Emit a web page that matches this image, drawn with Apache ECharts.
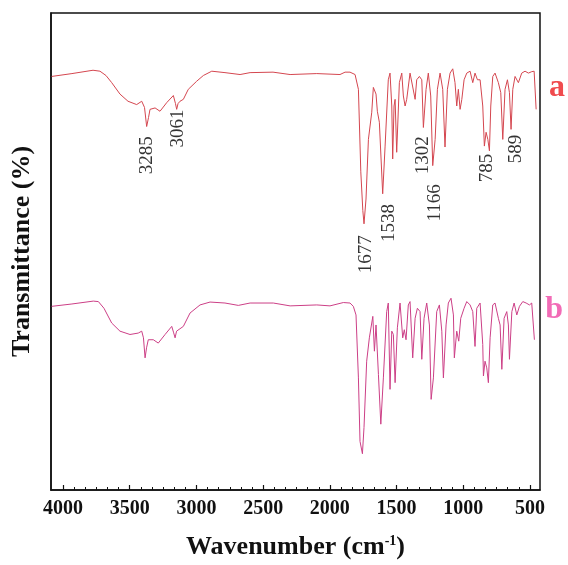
<!DOCTYPE html>
<html>
<head>
<meta charset="utf-8">
<script src="https://cdn.jsdelivr.net/npm/echarts@6/dist/echarts.min.js"></script>
<style>
html, body { margin: 0; padding: 0; background: #fff; }
#main { width: 568px; height: 565px; }
</style>
</head>
<body>
<div id="main"></div>
<script>
// 光谱 a（上方曲线）
const waveA = [4085, 3933, 3775, 3723, 3678, 3635, 3573, 3513, 3448, 3410, 3389, 3373, 3359, 3348, 3310, 3273, 3223, 3173, 3157, 3148,
  3138, 3123, 3098, 3061, 2998, 2948, 2885, 2786, 2673, 2598, 2426, 2298, 2098, 1924, 1886, 1849, 1811, 1786, 1768, 1753,
  1744, 1729, 1711, 1686, 1674, 1654, 1644, 1629, 1604, 1586, 1562, 1549, 1536, 1529, 1519, 1511, 1499, 1479, 1461, 1449,
  1436, 1424, 1399, 1386, 1361, 1349, 1329, 1311, 1299, 1279, 1262, 1244, 1229, 1211, 1194, 1174, 1154, 1137, 1119, 1099,
  1079, 1062, 1049, 1037, 1024, 1011, 994, 974, 949, 929, 912, 894, 874, 854, 842, 829, 816, 804, 794, 779,
  762, 737, 719, 704, 687, 669, 654, 642, 629, 612, 587, 562, 537, 512, 487, 469, 454]
const transA = [86.7, 87.3, 88.0, 87.8, 86.9, 85.4, 83.0, 81.5, 80.8, 81.5, 80.2, 76.2, 78.1, 79.8, 80.1, 79.4, 81.2, 82.7, 81.0, 79.8,
  81.0, 81.5, 81.9, 84.0, 85.7, 86.9, 87.8, 87.5, 87.1, 87.5, 87.6, 87.1, 87.3, 87.1, 87.6, 87.6, 87.1, 84.0, 66.7, 58.6,
  55.8, 61.0, 73.5, 79.2, 84.4, 83.0, 79.4, 77.1, 62.1, 72.1, 86.0, 87.4, 80.5, 69.4, 80.5, 81.9, 70.8, 85.4, 87.4, 82.6,
  80.5, 81.9, 87.4, 87.6, 81.9, 86.0, 86.7, 86.0, 76.0, 84.0, 87.4, 82.6, 68.0, 73.5, 84.0, 87.4, 84.0, 71.9, 84.0, 87.4,
  88.3, 85.4, 80.5, 84.0, 79.8, 81.9, 86.0, 87.4, 87.8, 85.4, 87.4, 86.0, 86.0, 80.5, 72.1, 75.0, 73.5, 71.1, 80.5, 86.7,
  87.4, 85.4, 83.3, 73.5, 84.0, 86.0, 83.3, 75.6, 84.0, 86.7, 85.4, 87.4, 87.8, 87.4, 87.7, 87.8, 79.8]

// 光谱 b（下方曲线）
const waveB = [4085, 3933, 3773, 3735, 3693, 3635, 3573, 3498, 3436, 3410, 3397, 3385, 3374, 3361, 3323, 3286, 3235, 3185, 3172, 3160,
  3149, 3136, 3098, 3048, 2973, 2898, 2786, 2686, 2598, 2424, 2298, 2098, 1999, 1899, 1849, 1824, 1804, 1786, 1774, 1756,
  1744, 1724, 1704, 1678, 1666, 1654, 1636, 1618, 1599, 1574, 1562, 1549, 1536, 1524, 1511, 1494, 1474, 1454, 1442, 1429,
  1412, 1399, 1379, 1361, 1344, 1324, 1311, 1294, 1274, 1254, 1241, 1224, 1199, 1179, 1161, 1149, 1129, 1112, 1092, 1074,
  1067, 1049, 1034, 1019, 994, 974, 949, 929, 912, 899, 874, 854, 849, 837, 824, 812, 799, 779, 762, 737,
  724, 711, 694, 674, 662, 654, 636, 619, 599, 579, 554, 529, 504, 487, 467]
const transB = [38.5, 39.0, 39.6, 39.5, 38.1, 35.0, 33.3, 32.6, 32.9, 33.3, 31.9, 27.7, 29.8, 31.5, 31.5, 30.8, 32.6, 34.3, 33.1, 31.9,
  33.3, 33.6, 34.3, 37.1, 38.8, 39.4, 39.2, 38.7, 39.2, 39.2, 38.6, 38.8, 38.6, 39.3, 39.2, 38.5, 36.7, 23.5, 10.2, 7.6,
  13.1, 27.0, 31.9, 36.4, 29.1, 34.6, 24.2, 13.8, 23.5, 37.4, 39.2, 21.1, 33.3, 32.6, 22.5, 34.0, 39.2, 31.9, 33.6, 31.5,
  38.8, 39.5, 27.7, 36.0, 38.1, 37.4, 27.4, 36.0, 39.2, 34.6, 19.0, 23.5, 37.4, 38.8, 33.3, 23.5, 34.6, 39.2, 40.2, 36.7,
  27.7, 33.3, 31.2, 36.0, 38.1, 39.5, 38.8, 37.4, 30.1, 38.1, 39.2, 30.5, 23.9, 27.0, 25.6, 22.5, 31.9, 38.8, 39.2, 36.0,
  34.6, 25.3, 36.0, 37.4, 34.6, 27.4, 37.4, 39.2, 36.7, 38.5, 39.5, 39.2, 38.8, 39.2, 31.5]

// 峰位标注（文字中心所在位置）
const peakNames = ['3285', '3061', '1677', '1538', '1302', '1166', '785', '589']
const peakWave = [3370, 3138, 1732, 1556, 1305, 1211, 822, 604]
const peakTrans = [70.2, 75.8, 49.4, 56.0, 70.2, 60.2, 67.5, 71.5]

// 刻度
const majorTicks = [4000, 3500, 3000, 2500, 2000, 1500, 1000, 500]
const minorTicks = [4000, 3917, 3833, 3750, 3667, 3583, 3500, 3417, 3333, 3250, 3167, 3083, 3000, 2917, 2833, 2750,
  2667, 2583, 2500, 2417, 2333, 2250, 2167, 2083, 2000, 1917, 1833, 1750, 1667, 1583, 1500, 1417, 1333, 1250, 1167,
  1083, 1000, 917, 833, 750, 667, 583, 500]

const serif = '"Liberation Serif", "Times New Roman", serif'
const chart = echarts.init(document.getElementById('main'))

const option = {
  animation: false,
  textStyle: { fontFamily: serif },
  grid: {
    left: 51, right: 28, top: 13, bottom: 72,
    show: true, borderColor: '#111', borderWidth: 1.5, backgroundColor: 'transparent'
  },
  xAxis: [
    {
      type: 'value', inverse: true, min: 425, max: 4090, position: 'bottom',
      splitLine: { show: false },
      axisLine: { show: true, lineStyle: { color: '#111', width: 1.5 } },
      axisTick: { show: true, inside: true, length: 5, customValues: majorTicks, lineStyle: { color: '#111', width: 1.2 } },
      axisLabel: {
        customValues: majorTicks, margin: 9, color: '#111',
        fontFamily: serif, fontWeight: 'bold', fontSize: 20,
        formatter: v => String(v)
      },
      name: 'Wavenumber (cm{sup|-1})',
      nameLocation: 'middle', nameGap: 44,
      nameTextStyle: {
        fontFamily: serif, fontWeight: 'bold', fontSize: 26, color: '#111',
        rich: {
          sup: { fontFamily: serif, fontWeight: 'bold', fontSize: 14, color: '#111', verticalAlign: 'top', padding: [0, 0, 11, 0] }
        }
      }
    },
    {
      type: 'value', inverse: true, min: 425, max: 4090, position: 'bottom',
      splitLine: { show: false },
      axisLine: { show: false },
      axisTick: { show: true, inside: true, length: 3, customValues: minorTicks, lineStyle: { color: '#111', width: 1 } },
      axisLabel: { show: false }
    }
  ],
  yAxis: {
    type: 'value', min: 0, max: 100,
    splitLine: { show: false },
    axisLine: { show: true, lineStyle: { color: '#111', width: 1.5 } },
    axisTick: { show: false },
    axisLabel: { show: false },
    name: 'Transmittance (%)',
    nameLocation: 'middle', nameGap: 16,
    nameTextStyle: { fontFamily: serif, fontWeight: 'bold', fontSize: 26, color: '#111' }
  },
  series: [
    {
      name: 'a', type: 'line', xAxisIndex: 0,
      data: waveA.map((w, i) => [w, transA[i]]),
      showSymbol: false, silent: true,
      lineStyle: { color: '#d4464f', width: 1 }
    },
    {
      name: 'b', type: 'line', xAxisIndex: 0,
      data: waveB.map((w, i) => [w, transB[i]]),
      showSymbol: false, silent: true,
      lineStyle: { color: '#cc3f86', width: 1 }
    },
    {
      // 峰位数字，竖排
      type: 'scatter', xAxisIndex: 0, symbolSize: 0, silent: true,
      data: peakNames.map((n, i) => ({ name: n, value: [peakWave[i], peakTrans[i]] })),
      label: {
        show: true, formatter: '{b}', position: 'inside', rotate: 90,
        color: '#000', fontFamily: serif, fontSize: 19
      }
    }
  ],
  graphic: [
    { type: 'text', right: 3, top: 72, style: { text: 'a', fill: '#f04b4e', font: 'bold 32px ' + serif } },
    { type: 'text', right: 5, top: 294, style: { text: 'b', fill: '#f26bb6', font: 'bold 32px ' + serif } }
  ]
}

chart.setOption(option)
</script>
</body>
</html>
